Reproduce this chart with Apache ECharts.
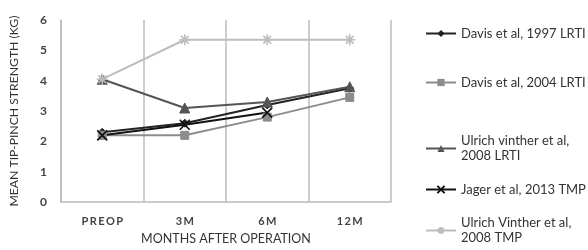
<!DOCTYPE html>
<html>
<head>
<meta charset="utf-8">
<script src="https://cdn.jsdelivr.net/npm/echarts@6/dist/echarts.min.js"></script>
<style>
  html, body { margin: 0; padding: 0; background: #fff; }
  #main { width: 588px; height: 250px; }
</style>
</head>
<body>
<div id="main"></div>
<script>
// data
const categories = ['PREOP', '3M', '6M', '12M'];
const davis1997 = [2.3, 2.6, 3.2, 3.75];
const davis2004 = [2.2, 2.2, 2.8, 3.45];
const ulrichLrti = [4.05, 3.1, 3.3, 3.8];
const jager2013 = [2.2, 2.55, 2.95, null];
const ulrichTmp = [4.05, 5.35, 5.35, 5.35];
const yTicks = [0, 1, 2, 3, 4, 5, 6];

const names = [
  'Davis et al, 1997 LRTI',
  'Davis et al, 2004 LRTI',
  'Ulrich vinther et al,\n2008 LRTI',
  'Jager et al, 2013 TMP',
  'Ulrich Vinther et al,\n2008 TMP'
];

const font = 'Lato, "Open Sans", sans-serif';
const crossPath = 'path://M0,0L10,10M10,0L0,10';
const starPath = 'path://M5,0L5,10M0,5L10,5M1.5,1.5L8.5,8.5M8.5,1.5L1.5,8.5';

const mkSeries = (name, data, color, symbol, size, stroke) => ({
  name: name,
  type: 'line',
  data: data,
  symbol: symbol,
  symbolSize: size,
  connectNulls: false,
  lineStyle: { color: color, width: 2 },
  itemStyle: stroke
    ? { color: 'rgba(0,0,0,0)', borderColor: color, borderWidth: 1.6 }
    : { color: color, borderColor: color },
  emphasis: { disabled: true }
});

// one legend per entry so the uneven spacing of the original can be kept
const legendTops = [21, 70, 121, 177, 203];
const legends = names.map((n, i) => ({
  data: [n],
  left: 420,
  top: legendTops[i],
  itemWidth: 30,
  itemHeight: 9,
  itemGap: 0,
  selectedMode: false,
  textStyle: {
    fontFamily: font,
    fontSize: 13,
    color: '#333',
    lineHeight: 15,
    padding: n.indexOf('\n') >= 0 ? [15, 0, 0, 0] : 0
  }
}));

const chart = echarts.init(document.getElementById('main'));
chart.setOption({
  animation: false,
  grid: { left: 56, right: 197, top: 20, bottom: 39 },
  legend: legends,
  xAxis: {
    type: 'category',
    data: categories,
    boundaryGap: true,
    name: 'MONTHS AFTER OPERATION',
    nameLocation: 'middle',
    nameGap: 26,
    nameTextStyle: { fontFamily: font, fontSize: 12.5, color: '#333' },
    axisLine: { lineStyle: { color: '#bbb', width: 1.5 } },
    axisTick: { show: false },
    axisLabel: {
      margin: 14,
      fontFamily: font,
      fontSize: 11,
      fontWeight: 'bold',
      color: '#444',
      formatter: v => v.split('').join('\u2009')
    },
    splitLine: { show: true, interval: 0, lineStyle: { color: '#bbb', width: 1.5 } }
  },
  yAxis: {
    type: 'value',
    min: yTicks[0],
    max: yTicks[yTicks.length - 1],
    interval: 1,
    name: 'MEAN TIP-PINCH STRENGTH (KG)',
    nameLocation: 'middle',
    nameGap: 41,
    nameTextStyle: { fontFamily: font, fontSize: 12.2, color: '#333' },
    axisLine: { show: true, lineStyle: { color: '#bbb', width: 1.5 } },
    axisTick: { show: false },
    axisLabel: { margin: 14, fontFamily: font, fontSize: 12, fontWeight: 'bold', color: '#444' },
    splitLine: { show: false }
  },
  series: [
    mkSeries(names[0], davis1997, '#222', 'diamond', 8, false),
    mkSeries(names[1], davis2004, '#8c8c8c', 'rect', 8, false),
    mkSeries(names[2], ulrichLrti, '#555', 'triangle', 10, false),
    mkSeries(names[3], jager2013, '#111', crossPath, 10, true),
    mkSeries(names[4], ulrichTmp, '#bdbdbd', starPath, 11, true)
  ]
});
</script>
</body>
</html>
